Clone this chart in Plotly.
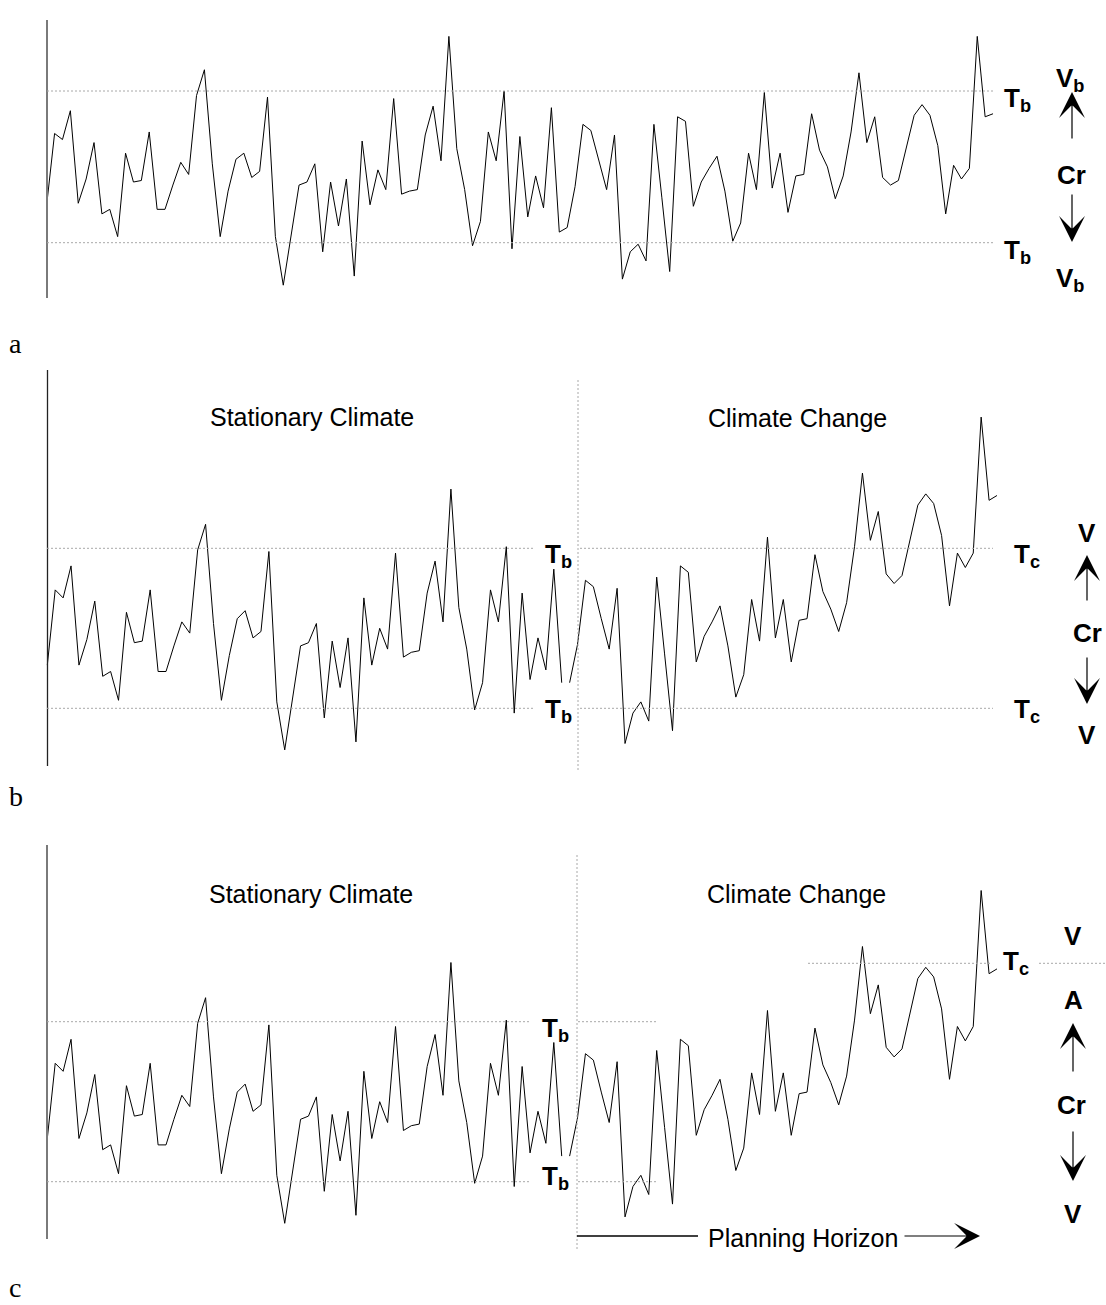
import plotly.graph_objects as go

# reference canvas size (the page body margin is removed after plotting)
W, H = 1106, 1305

# ---------------- data (threshold units: lower T = 0, upper T = 1) ----------------
step_index = list(range(1, 122))

baseline_vals = [
    0.25, 0.72, 0.68, 0.87, 0.26, 0.42, 0.66, 0.19, 0.22, 0.04,
    0.59, 0.40, 0.41, 0.73, 0.22, 0.22, 0.38, 0.53, 0.45, 0.97,
    1.14, 0.52, 0.04, 0.34, 0.55, 0.59, 0.43, 0.47, 0.96, 0.04,
    -0.28, 0.06, 0.38, 0.40, 0.52, -0.06, 0.40, 0.11, 0.42, -0.22,
    0.67, 0.25, 0.48, 0.35, 0.95, 0.32, 0.34, 0.35, 0.71, 0.90,
    0.54, 1.36, 0.62, 0.35, -0.02, 0.14, 0.73, 0.54, 1.00, -0.04,
    0.70, 0.17, 0.44, 0.23, 0.89, 0.07, 0.10, 0.37, 0.78, 0.74,
    0.55, 0.35, 0.71, -0.24, -0.06, -0.01, -0.12, 0.78, 0.30, -0.19,
    0.83, 0.80, 0.24, 0.40, 0.49, 0.57, 0.34, 0.01, 0.13, 0.59,
    0.35, 0.99, 0.36, 0.59, 0.20, 0.44, 0.45, 0.85, 0.61, 0.50,
    0.29, 0.44, 0.73, 1.12, 0.66, 0.83, 0.43, 0.38, 0.41, 0.62,
    0.84, 0.91, 0.84, 0.64, 0.19, 0.51, 0.42, 0.49, 1.36, 0.83,
    0.85,
]

stationary_vals = [
    0.27, 0.74, 0.69, 0.89, 0.27, 0.43, 0.67, 0.20, 0.23, 0.05,
    0.60, 0.41, 0.42, 0.74, 0.23, 0.23, 0.39, 0.54, 0.47, 0.99,
    1.15, 0.53, 0.05, 0.33, 0.56, 0.61, 0.44, 0.48, 0.98, 0.04,
    -0.26, 0.06, 0.39, 0.41, 0.53, -0.06, 0.42, 0.13, 0.44, -0.21,
    0.69, 0.27, 0.50, 0.37, 0.97, 0.32, 0.35, 0.36, 0.72, 0.92,
    0.54, 1.37, 0.63, 0.37, -0.01, 0.16, 0.74, 0.54, 1.01, -0.03,
    0.72, 0.18, 0.44, 0.24, 0.87, 0.16,
]

change_vals = [
    0.16, 0.40, 0.80, 0.76, 0.56, 0.37, 0.75, -0.22, -0.03, 0.04,
    -0.08, 0.82, 0.34, -0.14, 0.89, 0.85, 0.29, 0.45, 0.54, 0.64,
    0.39, 0.07, 0.21, 0.68, 0.42, 1.07, 0.44, 0.68, 0.29, 0.55,
    0.56, 0.96, 0.73, 0.62, 0.48, 0.66, 1.01, 1.47, 1.05, 1.23,
    0.84, 0.78, 0.83, 1.05, 1.27, 1.34, 1.28, 1.08, 0.64, 0.97,
    0.88, 0.97, 1.82, 1.30, 1.33,
]

tb_levels = [0.0, 1.0]
tc_level_c = 1.365

# ---------------- helpers (reference pixel -> paper) ----------------
def px(x):
    return x / W


def py(y):
    return 1 - y / H


FONT = "Liberation Sans, Arial, Helvetica, sans-serif"
SERIF = "Liberation Serif, Times New Roman, serif"

panels = [
    dict(top=20, bottom=298, low=242.7, unit=151.7, x0=46.7, step=7.886),
    dict(top=370, bottom=766, low=708.3, unit=160.0, x0=47.3, step=7.914),
    dict(top=845, bottom=1239, low=1181.7, unit=160.0, x0=47.3, step=7.914),
]

D0, D1 = 40, 1010
layout_axes = {}
for i, p in enumerate(panels):
    sfx = "" if i == 0 else str(i + 1)
    layout_axes["xaxis" + sfx] = dict(
        domain=[px(D0), px(D1)],
        range=[1 + (D0 - p["x0"]) / p["step"], 1 + (D1 - p["x0"]) / p["step"]],
        visible=False, fixedrange=True, anchor="y" + sfx,
    )
    layout_axes["yaxis" + sfx] = dict(
        domain=[py(p["bottom"]), py(p["top"])],
        range=[(p["low"] - p["bottom"]) / p["unit"], (p["low"] - p["top"]) / p["unit"]],
        visible=False, fixedrange=True, anchor="x" + sfx,
    )

fig = go.Figure()
line_style = dict(color="black", width=1)

fig.add_trace(go.Scatter(x=step_index, y=baseline_vals, mode="lines", line=line_style,
                         xaxis="x", yaxis="y", hoverinfo="skip", showlegend=False))
split = len(stationary_vals)
for ax in ["2", "3"]:
    fig.add_trace(go.Scatter(x=step_index[:split], y=stationary_vals, mode="lines", line=line_style,
                             xaxis="x" + ax, yaxis="y" + ax, hoverinfo="skip", showlegend=False))
    fig.add_trace(go.Scatter(x=step_index[split:], y=change_vals, mode="lines", line=line_style,
                             xaxis="x" + ax, yaxis="y" + ax, hoverinfo="skip", showlegend=False))

shapes = []
DOT = dict(color="#a8a8a8", width=1, dash="2px,2px")


def hline(x_a, x_b, level, yref):
    shapes.append(dict(type="line", xref="paper", yref=yref, x0=px(x_a), x1=px(x_b),
                       y0=level, y1=level, line=DOT))


def vline_px(x, y_a, y_b, line):
    shapes.append(dict(type="line", xref="paper", yref="paper", x0=px(x), x1=px(x),
                       y0=py(y_a), y1=py(y_b), line=line))


# vertical axis lines
vline_px(47, 20, 298, dict(color="#7a7a7a", width=2))
vline_px(47.5, 370, 766, dict(color="#222222", width=1.3))
vline_px(47, 845, 1239, dict(color="#7a7a7a", width=2))

# thresholds
for lv in tb_levels:
    hline(47, 993, lv, "y")
    hline(47, 533, lv, "y2")
    hline(580, 993, lv, "y2")
    hline(47, 530, lv, "y3")
    hline(578, 658, lv, "y3")
hline(808, 990, tc_level_c, "y3")
hline(1039, 1106, tc_level_c, "y3")

# dividers
vline_px(578, 380, 772, DOT)
vline_px(577, 855, 1249, DOT)

# planning horizon shaft
shapes.append(dict(type="line", xref="paper", yref="paper", x0=px(577), x1=px(698),
                   y0=py(1236), y1=py(1236), line=dict(color="black", width=1.3)))

annotations = []


def txt(text, x, y, size=25, bold=False, xanchor="center", family=FONT, yanchor="middle"):
    if bold:
        text = "<b>" + text + "</b>"
    annotations.append(dict(text=text, x=px(x), y=py(y), xref="paper", yref="paper",
                            showarrow=False, xanchor=xanchor, yanchor=yanchor,
                            font=dict(family=family, size=size, color="black")))


def arrow(x_tip, y_tip, x_tail, y_tail, color="black"):
    annotations.append(dict(text="", x=px(x_tip), y=py(y_tip), xref="paper", yref="paper",
                            showarrow=True, ax=x_tail - x_tip, ay=y_tail - y_tip,
                            axref="pixel", ayref="pixel",
                            arrowhead=3, arrowsize=3.6, arrowwidth=1.2, arrowcolor=color))


BS = 26  # bold label size

# panel letters
txt("a", 7, 343, size=28, xanchor="left", family=SERIF)
txt("b", 7, 796, size=28, xanchor="left", family=SERIF)
txt("c", 7, 1305, size=28, xanchor="left", family=SERIF, yanchor="bottom")

# panel a
txt("T<sub>b</sub>", 1002, 100, size=BS, bold=True, xanchor="left")
txt("T<sub>b</sub>", 1002, 252, size=BS, bold=True, xanchor="left")
txt("V<sub>b</sub>", 1069.5, 80, size=BS, bold=True)
txt("Cr", 1071, 175, size=BS, bold=True)
txt("V<sub>b</sub>", 1069.5, 279, size=BS, bold=True)
arrow(1072, 92, 1072, 140)
arrow(1072, 242, 1072, 193)

# panel b
txt("Stationary Climate", 312, 417)
txt("Climate Change", 797, 418)
txt("T<sub>b</sub>", 543, 555, size=BS, bold=True, xanchor="left")
txt("T<sub>b</sub>", 543, 710, size=BS, bold=True, xanchor="left")
txt("T<sub>c</sub>", 1012, 555, size=BS, bold=True, xanchor="left")
txt("T<sub>c</sub>", 1012, 710, size=BS, bold=True, xanchor="left")
txt("V", 1087, 533, size=BS, bold=True)
txt("Cr", 1087, 633, size=BS, bold=True)
txt("V", 1087, 735, size=BS, bold=True)
arrow(1087, 555, 1087, 602)
arrow(1087, 704, 1087, 656)

# panel c
txt("Stationary Climate", 311, 894)
txt("Climate Change", 796, 894)
txt("T<sub>b</sub>", 540, 1029, size=BS, bold=True, xanchor="left")
txt("T<sub>b</sub>", 540, 1177, size=BS, bold=True, xanchor="left")
txt("T<sub>c</sub>", 1001, 962, size=BS, bold=True, xanchor="left")
txt("V", 1073, 935.5, size=BS, bold=True)
txt("A", 1073, 1000, size=BS, bold=True)
txt("Cr", 1071.5, 1105, size=BS, bold=True)
txt("V", 1073, 1214, size=BS, bold=True)
arrow(1073, 1023, 1073, 1073)
arrow(1073, 1181, 1073, 1130)
txt("Planning Horizon", 802.5, 1238)
arrow(980, 1236, 903, 1236)

fig.update_layout(
    width=W, height=H,
    margin=dict(l=0, r=0, t=0, b=0),
    paper_bgcolor="white", plot_bgcolor="rgba(0,0,0,0)",
    shapes=shapes, annotations=annotations,
    showlegend=False,
    **layout_axes,
)

fig.write_html(
    "out.html",
    config={"displayModeBar": False, "staticPlot": True},
    post_script="document.body.style.margin='0px';document.body.style.overflow='hidden';",
)
